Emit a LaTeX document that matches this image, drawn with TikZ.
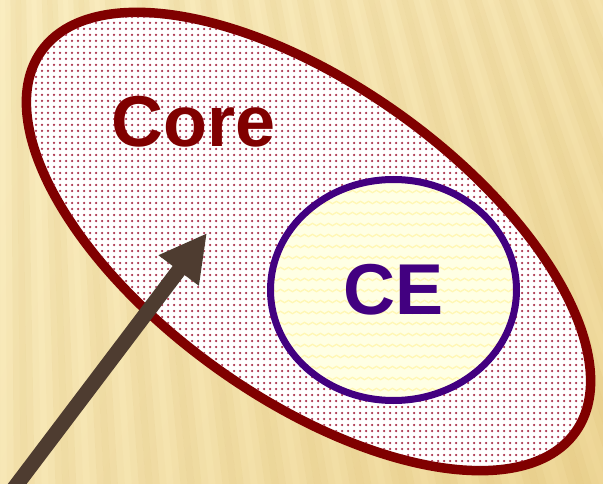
\documentclass[tikz,border=0pt]{standalone}
\usepackage{fontspec}
\setmainfont{Liberation Sans}
\usetikzlibrary{shapes.geometric,arrows.meta,decorations.pathmorphing,shadings}
\definecolor{bgA}{RGB}{250,237,192}
\definecolor{bgB}{RGB}{238,214,150}
\definecolor{stripe}{RGB}{196,155,65}
\definecolor{coreRed}{RGB}{128,0,0}
\definecolor{dotRed}{RGB}{170,50,75}
\definecolor{cePurple}{RGB}{66,0,128}
\definecolor{ceFill}{RGB}{255,255,228}
\definecolor{zigCol}{RGB}{255,247,180}
\definecolor{arrowBrown}{RGB}{78,60,48}
\tikzset{
  bigfont/.style={font=\fontsize{72}{72}\selectfont\bfseries},
  zigline/.style={draw=zigCol, line width=1.3pt, decorate,
    decoration={zigzag, segment length=8pt, amplitude=1.2pt}},
  coreshape/.style={ellipse, draw=coreRed, line width=9.5pt, fill=white,
    inner sep=0pt},
  ceshape/.style={ellipse, draw=cePurple, line width=7pt, fill=ceFill,
    inner sep=0pt, text=cePurple, bigfont},
  arrowline/.style={draw=arrowBrown, line width=15pt,
    -{Triangle[length=47pt,width=47pt]}}
}
\begin{document}
\begin{tikzpicture}[x=1pt,y=1pt]
\useasboundingbox (0,0) rectangle (603,483);
\clip (0,0) rectangle (603,483);
% background
\shade[upper left=bgA, upper right=bgA!55!bgB, lower left=bgA!75!bgB, lower right=bgB] (0,0) rectangle (603,483);
\foreach \i in {-2,...,21} {
  \foreach \k in {0,...,5} {
    \pgfmathsetmacro\opa{0.065*(1-cos(60*\k))}
    \pgfmathsetmacro\aa{-90+\i*1.2+\k*0.2}
    \pgfmathsetmacro\ab{\aa+0.2}
    \fill[stripe, fill opacity=\opa] (0,1983) -- +(\aa:2200) -- +(\ab:2200) -- cycle;
  }
}
% outer ellipse
\node[coreshape, minimum width=656pt, minimum height=313pt, rotate=-35.5] (core) at (308.5,241.5) {};
\begin{scope}
  \clip[rotate around={-35.5:(core.center)}] (core.center) ellipse (323.5 and 151.5);
  \foreach \x in {24,30,...,596} {
    \fill[dotRed] \foreach \y in {10,16,...,476} { (\x,\y) circle (1.25) };
  }
\end{scope}
\node[text=coreRed, bigfont, anchor=base, inner sep=0pt] (coretext) at (193.5,336) {Core};
% inner ellipse
\node[ceshape, minimum width=246pt, minimum height=221pt,
  path picture={
    \foreach \j in {0,...,22}
      \draw[zigline] ([yshift=\j*11pt]path picture bounding box.south west) -- ([yshift=\j*11pt]path picture bounding box.south east);
  }] (ce) at (393.5,193) {CE};
% arrow
\coordinate (arrS) at (10.4,-10);
\coordinate (arrT) at (207,250);
\draw[arrowline] (arrS) -- (arrT);
\end{tikzpicture}
\end{document}
